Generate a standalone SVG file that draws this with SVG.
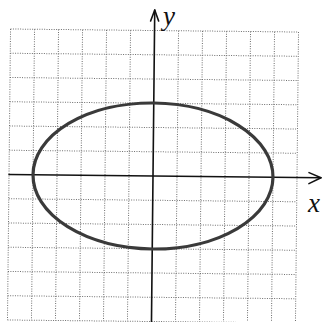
<svg xmlns="http://www.w3.org/2000/svg" width="326" height="322" viewBox="0 0 326 322">
  <style>
    .grid line { stroke: #6e6e6e; stroke-width: 1; stroke-dasharray: 1 1.4; }
    .axis { stroke: #111; stroke-width: 1.6; fill: none; stroke-linecap: round; stroke-linejoin: round; }
    .curve { stroke: #3a3a3a; stroke-width: 3.2; fill: none; }
    .lbl { font-family: "Liberation Serif", "DejaVu Serif", serif; font-style: italic; fill: #111; font-size: 27px; }
  </style>
  <rect width="326" height="322" fill="#ffffff"/>
  <g transform="rotate(0.6 153 176)">
    <g id="grid" class="grid">
      <line x1="9" y1="30.5" x2="9" y2="321.5"/>
      <line x1="33" y1="30.5" x2="33" y2="321.5"/>
      <line x1="57" y1="30.5" x2="57" y2="321.5"/>
      <line x1="81" y1="30.5" x2="81" y2="321.5"/>
      <line x1="105" y1="30.5" x2="105" y2="321.5"/>
      <line x1="129" y1="30.5" x2="129" y2="321.5"/>
      <line x1="177" y1="30.5" x2="177" y2="321.5"/>
      <line x1="201" y1="30.5" x2="201" y2="321.5"/>
      <line x1="225" y1="30.5" x2="225" y2="321.5"/>
      <line x1="249" y1="30.5" x2="249" y2="321.5"/>
      <line x1="273" y1="30.5" x2="273" y2="321.5"/>
      <line x1="297" y1="30.5" x2="297" y2="321.5"/>
      <line x1="9" y1="30.5" x2="297" y2="30.5"/>
      <line x1="9" y1="54.75" x2="297" y2="54.75"/>
      <line x1="9" y1="79" x2="297" y2="79"/>
      <line x1="9" y1="103.25" x2="297" y2="103.25"/>
      <line x1="9" y1="127.5" x2="297" y2="127.5"/>
      <line x1="9" y1="151.75" x2="297" y2="151.75"/>
      <line x1="9" y1="200.25" x2="297" y2="200.25"/>
      <line x1="9" y1="224.5" x2="297" y2="224.5"/>
      <line x1="9" y1="248.75" x2="297" y2="248.75"/>
      <line x1="9" y1="273" x2="297" y2="273"/>
      <line x1="9" y1="297.25" x2="297" y2="297.25"/>
      <line x1="9" y1="321.5" x2="297" y2="321.5"/>
    </g>
    <g id="connectors">
      <g id="x-axis">
        <line class="axis" x1="9" y1="176" x2="321" y2="176"/>
        <polyline class="axis" points="309,171 321,176 309,182"/>
      </g>
      <g id="y-axis">
        <line class="axis" x1="153" y1="330" x2="153" y2="10"/>
        <polyline class="axis" points="149,21 153,10 157,21"/>
      </g>
    </g>
    <g id="ellipse">
      <ellipse class="curve" cx="153" cy="176" rx="120" ry="73"/>
    </g>
  </g>
  <g id="labels">
    <text class="lbl" x="163" y="25">y</text>
    <text class="lbl" x="308" y="212">x</text>
  </g>
</svg>
